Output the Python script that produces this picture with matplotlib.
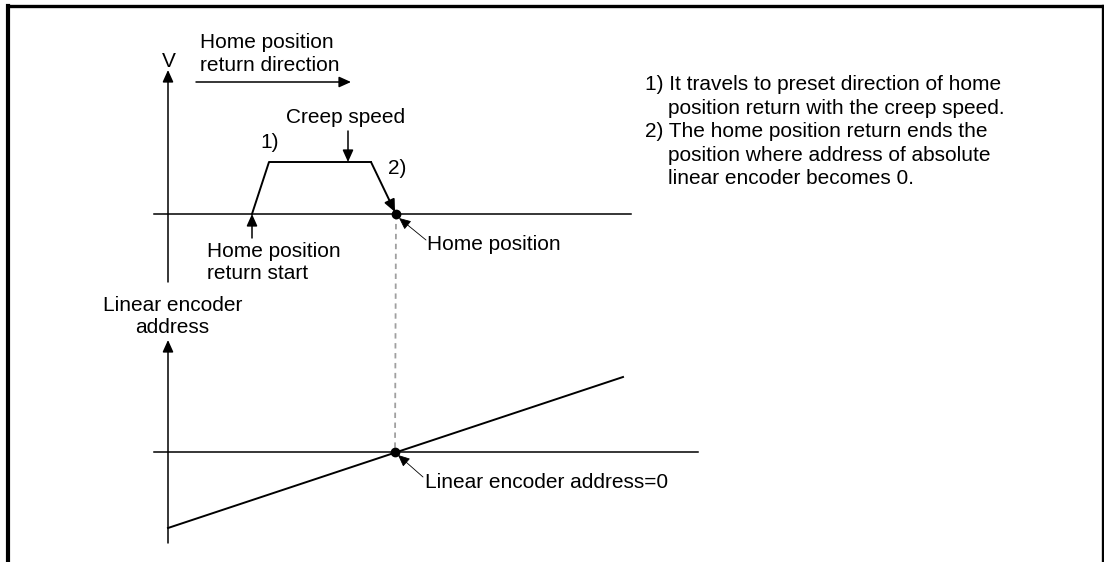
import matplotlib
matplotlib.use("Agg")
import matplotlib.pyplot as plt

plt.rcParams['font.family'] = ['Liberation Sans', 'DejaVu Sans']

# ---- diagram data (pixel-space coordinates, y grows downward) ----
speed_profile_x = [252, 269, 371]
speed_profile_y = [214, 162, 162]
speed_end = (396, 214)          # home position (speed returns to 0)
encoder_line_x = [168, 623]
encoder_line_y = [528, 377]
encoder_zero = (395, 452)

notes = [
    "1) It travels to preset direction of home",
    "    position return with the creep speed.",
    "2) The home position return ends the",
    "    position where address of absolute",
    "    linear encoder becomes 0.",
]
note_baselines = [90, 113.5, 137, 161, 184.5]

W, H = 1104, 562
fig = plt.figure(figsize=(W / 100, H / 100), dpi=100)
ax = fig.add_axes([0, 0, 1, 1])
ax.set_xlim(0, W)
ax.set_ylim(H, 0)
ax.axis('off')

FS = 15
LW_AX = 1.1
LW_CURVE = 1.4
k = dict(color='black')


def arrow(x0, y0, x1, y1, lw=LW_AX, scale=12):
    ax.annotate('', xy=(x1, y1), xytext=(x0, y0),
                arrowprops=dict(arrowstyle='-|>,head_length=0.6,head_width=0.27',
                                mutation_scale=scale, lw=lw, color='black',
                                shrinkA=0, shrinkB=0))


def thin_arrow(x0, y0, x1, y1):
    ax.annotate('', xy=(x1, y1), xytext=(x0, y0),
                arrowprops=dict(arrowstyle='-|>,head_length=0.6,head_width=0.27',
                                mutation_scale=12, lw=0.6, color='black',
                                shrinkA=0, shrinkB=0))


def txt(x, y, s, **kw):
    ax.text(x, y, s, fontsize=FS, va='baseline', ha='left', color='black', **kw)


# ---- frame (left, top, right) ----
ax.plot([8, 8], [H, 5.5], color='black', lw=3.0, solid_capstyle='projecting')
ax.plot([8, 1102.5], [5.5, 5.5], color='black', lw=2.4, solid_capstyle='projecting')
ax.plot([1102.5, 1102.5], [5.5, H], color='black', lw=2.4, solid_capstyle='projecting')

# dashed connector
ax.plot([speed_end[0], encoder_zero[0]], [speed_end[1], encoder_zero[1]],
        color='#a0a0a0', lw=1.3, dashes=(3, 2.5))

# ---- upper chart: speed ----
arrow(168, 282, 168, 70)                  # V axis
ax.plot([154, 631], [214, 214], lw=LW_AX, **k)   # time axis
arrow(196, 82, 351, 82)                   # direction arrow
ax.plot(speed_profile_x, speed_profile_y, lw=LW_CURVE, **k)
arrow(speed_profile_x[-1], speed_profile_y[-1], speed_end[0] - 1, speed_end[1] - 2, lw=LW_CURVE)
ax.plot([speed_end[0]], [speed_end[1]], 'o', ms=6, color='black', zorder=5)
arrow(348, 131, 348, 162)                 # creep speed arrow
arrow(252, 238, 252, 214)                 # start arrow
thin_arrow(426, 240, 399, 218)            # home position leader

# ---- lower chart: encoder address ----
arrow(168, 543, 168, 340)
ax.plot([154, 698], [452, 452], lw=LW_AX, **k)
ax.plot(encoder_line_x, encoder_line_y, lw=LW_CURVE, **k)
ax.plot([encoder_zero[0]], [encoder_zero[1]], 'o', ms=6, color='black', zorder=5)
thin_arrow(423, 477, 398, 455)

# ---- texts ----
txt(162, 67, "V")
txt(200, 48, "Home position")
txt(200, 71, "return direction")
txt(286, 123, "Creep speed")
txt(260, 148, "1)")
txt(388, 174, "2)")
txt(207, 257, "Home position")
txt(207, 279, "return start")
txt(427, 250, "Home position")
txt(103, 311, "Linear encoder")
txt(135, 333, "address")
txt(425, 488, "Linear encoder address=0")

for s, yb in zip(notes, note_baselines):
    txt(645, yb, s)

fig.savefig("out.png", dpi=100)
